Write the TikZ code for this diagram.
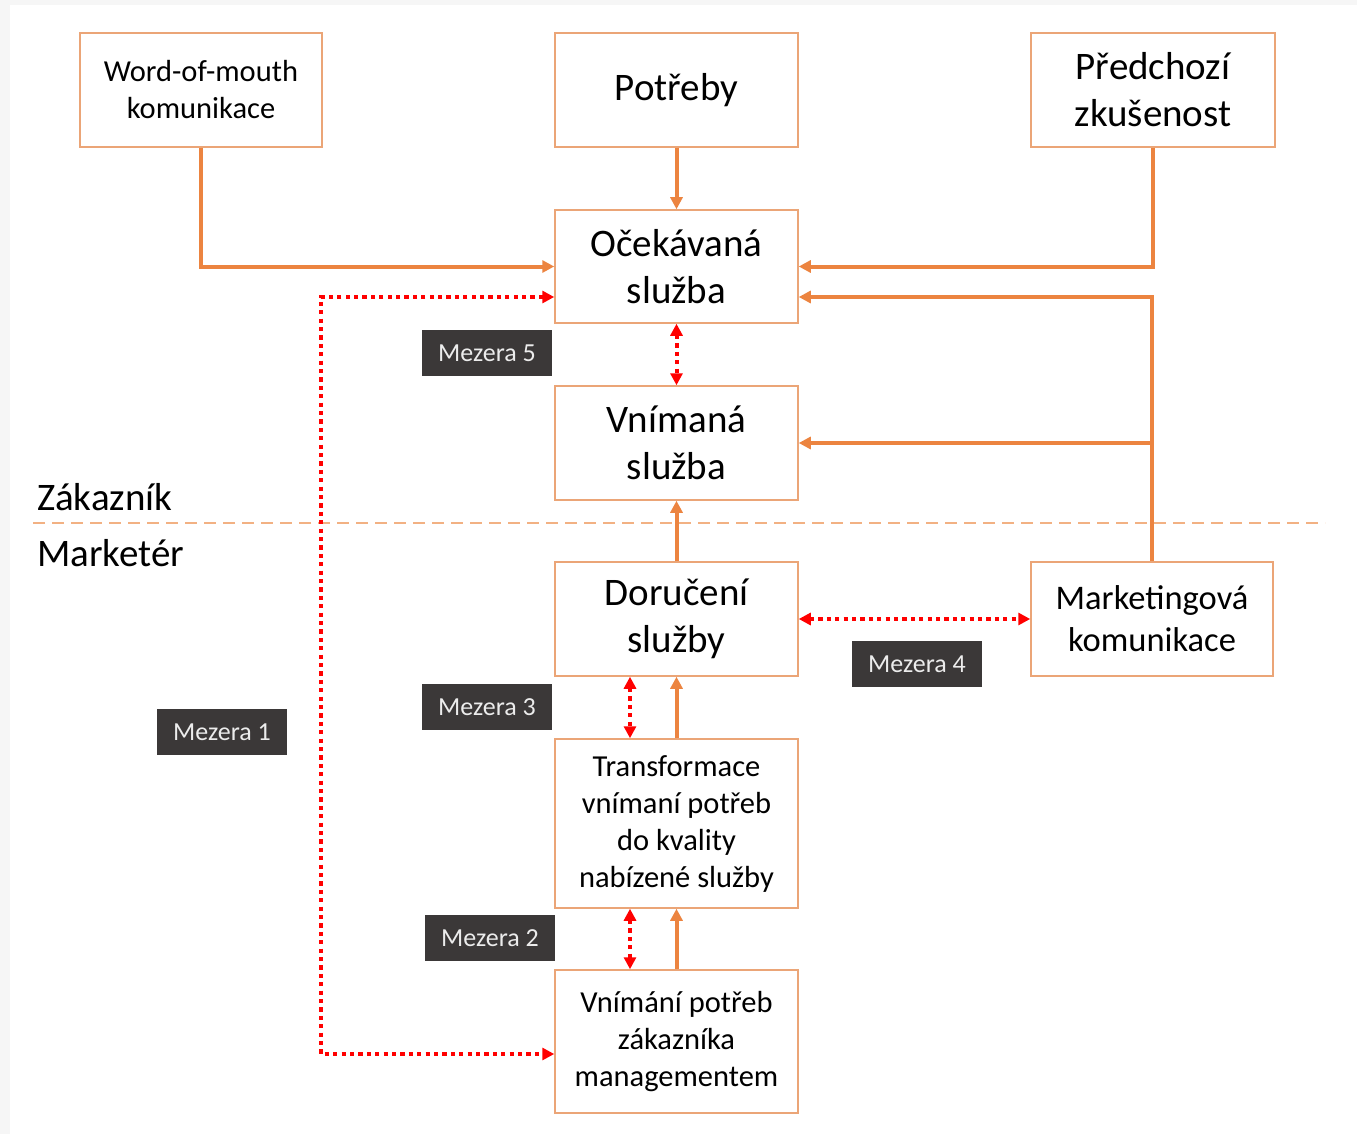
\documentclass[tikz,border=0pt]{standalone}
\usepackage{fontspec}
\setmainfont{Carlito}
\usetikzlibrary{arrows.meta,positioning}

\definecolor{boxline}{HTML}{EBA577}
\definecolor{arrowline}{HTML}{EC8440}
\definecolor{gapred}{HTML}{FF0000}
\definecolor{labelfill}{HTML}{3B3838}
\definecolor{divline}{HTML}{F2B183}

\begin{document}
\begin{tikzpicture}[
    x=1pt, y=-1pt,
    box/.style={
        rectangle,
        draw=boxline,
        line width=1.5pt,
        fill=white,
        inner sep=0pt,
        align=center,
        minimum width=243pt,
        minimum height=114pt
    },
    bigtext/.style={font=\fontsize{39}{47}\selectfont},
    midtext/.style={font=\fontsize{30.5}{37}\selectfont},
    edge/.style={
        -{Triangle[length=12pt,width=12pt]},
        draw=arrowline,
        line width=4pt
    },
    gap/.style={
        {Triangle[length=12pt,width=12pt]}-{Triangle[length=12pt,width=12pt]},
        draw=gapred,
        line width=4pt,
        dash pattern=on 4.2pt off 4.2pt
    },
    gaplabel/.style={
        rectangle,
        fill=labelfill,
        text=gray!15,
        inner sep=0pt,
        minimum width=130pt,
        minimum height=46pt,
        font=\fontsize{26}{30}\selectfont
    },
    divider/.style={
        draw=divline,
        line width=1.5pt,
        dash pattern=on 12pt off 7pt
    }
]

\useasboundingbox (0,0) rectangle (1357,1134);
\fill[gray!7] (0,0) rectangle (1357,1134);
\fill[white] (10,5) rectangle (1357,1134);

% Top row
\node[box,midtext,minimum width=242pt] (wom) at (201,90) {Word-of-mouth\\komunikace};
\node[box,bigtext] (potreby) at (676.5,90) {Potřeby};
\node[box,bigtext,minimum width=244pt] (predchozi) at (1153,90) {Předchozí\\zkušenost};

% Customer side
\node[box,bigtext,minimum height=113pt] (ocekavana) at (676.5,266.5) {Očekávaná\\služba};
\node[box,bigtext] (vnimana) at (676.5,443) {Vnímaná\\služba};

% Marketer side
\node[box,bigtext] (doruceni) at (676.5,619) {Doručení\\služby};
\node[box,font=\fontsize{34.5}{42}\selectfont,minimum width=242pt] (marketing) at (1152,619) {Marketingová\\komunikace};
\node[box,midtext,minimum height=169pt] (transformace) at (676.5,823.5) {Transformace\\vnímaní potřeb\\do kvality\\nabízené služby};
\node[box,midtext,minimum height=143pt] (vnimani) at (676.5,1041.5) {Vnímání potřeb\\zákazníka\\managementem};

% Divider
\coordinate (divL) at (33,523);
\coordinate (divR) at (1325,523);
\draw[divider] (divL) -- (divR);
\node[anchor=base west,inner sep=0pt,font=\fontsize{39}{47}\selectfont] (zakaznik) at (37,510) {Zákazník};
\node[anchor=base west,inner sep=0pt,font=\fontsize{39}{47}\selectfont] (marketer) at (37,566) {Marketér};

% Edges
\draw[edge] (wom.south) |- (ocekavana.west);
\draw[edge] (potreby) -- (ocekavana);
\draw[edge] (predchozi.south) |- (ocekavana.east);
\draw[edge] (marketing.north) |- ([yshift=-30.5pt]ocekavana.east);
\coordinate (branch) at (marketing.north |- vnimana.east);
\draw[edge] (branch) -- (vnimana.east);
\draw[edge] (doruceni) -- (vnimana);
\draw[edge] (transformace) -- (doruceni);
\draw[edge] (vnimani) -- (transformace);

% Gaps
\coordinate (m1top) at (321,297);
\coordinate (m1bot) at (321,1054);
\draw[gap] ([yshift=-30.5pt]ocekavana.west) -- (m1top) -- (m1bot) -- ([yshift=-12.5pt]vnimani.west);
\draw[gap] (ocekavana.south) -- (vnimana.north);
\draw[gap] ([xshift=-46.5pt]doruceni.south) -- ([xshift=-46.5pt]transformace.north);
\draw[gap] ([xshift=-46.5pt]transformace.south) -- ([xshift=-46.5pt]vnimani.north);
\draw[gap] (doruceni.east) -- (marketing.west);

% Gap labels
\node[gaplabel] (mez5) at (487,353) {Mezera 5};
\node[gaplabel] (mez3) at (487,707) {Mezera 3};
\node[gaplabel] (mez2) at (490,938) {Mezera 2};
\node[gaplabel] (mez4) at (917,664) {Mezera 4};
\node[gaplabel] (mez1) at (222,732) {Mezera 1};

\end{tikzpicture}
\end{document}
